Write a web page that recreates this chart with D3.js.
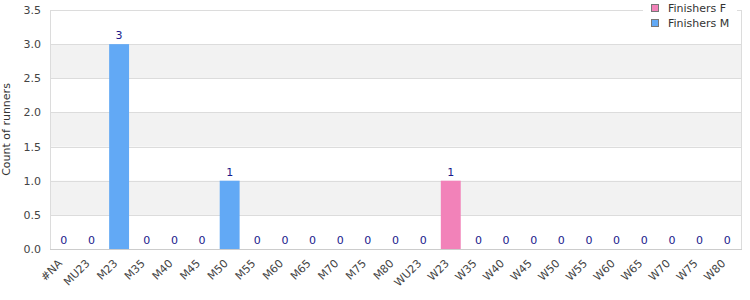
<!DOCTYPE html>
<html>
<head>
<meta charset="utf-8">
<script src="https://cdn.jsdelivr.net/npm/d3@7"></script>
<style>
  body { margin: 0; background: #fff; }
  text { font-family: "DejaVu Sans", Verdana, sans-serif; }
</style>
</head>
<body>
<div id="chart"></div>
<script>
// categories and counts
var categories = ["#NA", "MU23", "M23", "M35", "M40", "M45", "M50", "M55", "M60", "M65", "M70", "M75", "M80",
                  "WU23", "W23", "W35", "W40", "W45", "W50", "W55", "W60", "W65", "W70", "W75", "W80"];
var finishersM = [0, 0, 3, 0, 0, 0, 1, 0, 0, 0, 0, 0, 0, null, null, null, null, null, null, null, null, null, null, null, null];
var finishersF = [null, null, null, null, null, null, null, null, null, null, null, null, null, 0, 1, 0, 0, 0, 0, 0, 0, 0, 0, 0, 0];
var yTicks = [0, 0.5, 1, 1.5, 2, 2.5, 3, 3.5];
var seriesNames = ["Finishers F", "Finishers M"];

document.addEventListener("DOMContentLoaded", function() {
    var w = 750, h = 300;
    var margin = {top: 10, right: 9, bottom: 51, left: 50};
    var iw = w - margin.left - margin.right;
    var ih = h - margin.top - margin.bottom;
    var colorF = "#f282b9", colorM = "#62a9f5";

    var svg = d3.select("#chart").append("svg")
        .attr("width", w).attr("height", h);
    var g = svg.append("g").attr("transform", "translate(" + margin.left + "," + margin.top + ")");

    var x = d3.scaleBand().domain(categories).range([0, iw]).paddingInner(0.28).paddingOuter(0.14);
    var y = d3.scaleLinear().domain([0, 3.5]).range([ih, 0]);

    // alternating bands
    var bands = [[0.5, 1], [1.5, 2], [2.5, 3]];
    g.selectAll("rect.band").data(bands).enter().append("rect")
        .attr("class", "band")
        .attr("x", 0).attr("width", iw)
        .attr("y", function(d) { return y(d[1]); })
        .attr("height", function(d) { return y(d[0]) - y(d[1]); })
        .attr("fill", "#f2f2f2");

    // gridlines
    g.selectAll("line.grid").data(yTicks).enter().append("line")
        .attr("class", "grid")
        .attr("x1", 0).attr("x2", iw)
        .attr("y1", function(d) { return Math.round(y(d)) + 0.5; })
        .attr("y2", function(d) { return Math.round(y(d)) + 0.5; })
        .attr("stroke", "#dcdcdc");
    g.append("line").attr("x1", iw + 0.5).attr("x2", iw + 0.5).attr("y1", 0).attr("y2", ih)
        .attr("stroke", "#dcdcdc");
    g.append("line").attr("x1", 0.5).attr("x2", 0.5).attr("y1", 0).attr("y2", ih)
        .attr("stroke", "#dcdcdc");

    var rows = categories.map(function(c, i) {
        var isF = finishersF[i] !== null;
        return {cat: c, value: isF ? finishersF[i] : finishersM[i], color: isF ? colorF : colorM};
    });

    g.selectAll("rect.bar").data(rows).enter().append("rect")
        .attr("class", "bar")
        .attr("x", function(d) { return x(d.cat); })
        .attr("width", x.bandwidth())
        .attr("y", function(d) { return y(d.value); })
        .attr("height", function(d) { return ih - y(d.value); })
        .attr("fill", function(d) { return d.color; });

    // bottom axis line
    g.append("line").attr("x1", 0).attr("x2", iw + 1).attr("y1", ih + 0.5).attr("y2", ih + 0.5)
        .attr("stroke", "#cccccc");

    g.selectAll("text.val").data(rows).enter().append("text")
        .attr("class", "val")
        .attr("x", function(d) { return x(d.cat) + x.bandwidth() / 2; })
        .attr("y", function(d) { return y(d.value) - 5; })
        .attr("text-anchor", "middle")
        .attr("font-size", "11px")
        .attr("fill", "#1a1a8c")
        .text(function(d) { return d.value; });

    // y axis
    var yAxis = g.append("g").call(d3.axisLeft(y).tickValues(yTicks).tickFormat(d3.format(".1f")).tickSize(0).tickPadding(9));
    yAxis.select(".domain").remove();
    yAxis.selectAll("text").attr("font-size", "11px").attr("fill", "#444").style("font-family", "DejaVu Sans");

    // x axis labels, rotated 45 degrees
    var xl = g.append("g").attr("class", "xlabels");
    xl.selectAll("text").data(categories).enter().append("text")
        .attr("transform", function(d) {
            return "translate(" + (x(d) + x.bandwidth() / 2 - 1) + "," + (ih + 15) + ") rotate(-45)";
        })
        .attr("text-anchor", "end")
        .attr("font-size", "11px")
        .attr("fill", "#444")
        .text(function(d) { return d; });

    svg.append("text")
        .attr("transform", "translate(6," + (margin.top + ih / 2) + ") rotate(-90)")
        .attr("dy", "0.35em")
        .attr("text-anchor", "middle")
        .attr("font-size", "11px").attr("fill", "#333")
        .text("Count of runners");

    // legend
    var legend = svg.append("g");
    legend.append("rect").attr("x", 643).attr("y", 0).attr("width", 94).attr("height", 32).attr("fill", "#fff");
    legend.selectAll("rect.key").data(seriesNames).enter().append("rect")
        .attr("class", "key")
        .attr("x", 651.5).attr("y", function(d, i) { return 4.5 + i * 15; })
        .attr("width", 7).attr("height", 7)
        .attr("fill", function(d, i) { return i === 0 ? colorF : colorM; })
        .attr("stroke", "#777");
    legend.selectAll("text.key").data(seriesNames).enter().append("text")
        .attr("class", "key")
        .attr("x", 668).attr("y", function(d, i) { return 8 + i * 15; })
        .attr("dy", "0.35em")
        .attr("font-size", "11px").attr("fill", "#333")
        .text(function(d) { return d; });
});
</script>
</body>
</html>
